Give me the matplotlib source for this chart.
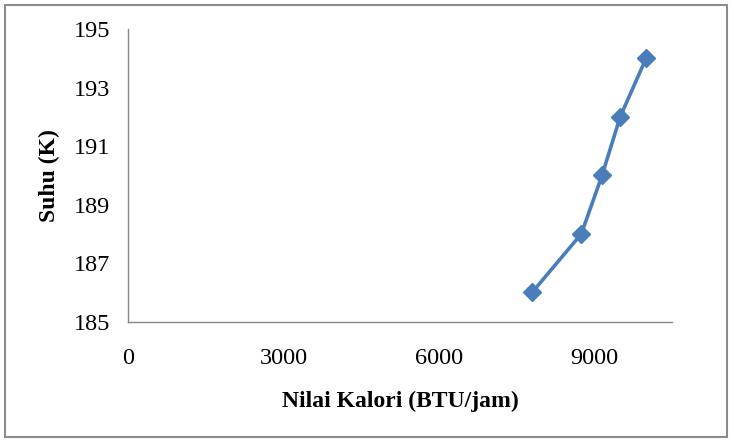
import matplotlib
matplotlib.use("Agg")
import matplotlib.pyplot as plt
from matplotlib.patches import Rectangle

kalori = [7800, 8750, 9150, 9500, 10000]
suhu = [186, 188, 190, 192, 194]
x_ticks = [0, 3000, 6000, 9000]
y_ticks = [185, 187, 189, 191, 193, 195]

plt.rcParams['font.family'] = ['Liberation Serif', 'DejaVu Serif']

fig = plt.figure(figsize=(7.34, 4.46), dpi=100)
fig.patches.append(Rectangle((5/734, 9/446), 722/734, 432/446, transform=fig.transFigure,
                             fill=False, edgecolor='#8c8c8c', linewidth=1.5))
ax = fig.add_axes([128/734, 124.3/446, 544/734, 292.7/446])
ax.plot(kalori, suhu, color='#4A7EBB', linewidth=2.6, marker='D', markersize=9,
        markerfacecolor='#4A7EBB', markeredgecolor='#4A7EBB')
ax.set_xlim(0, 10500)
ax.set_ylim(185, 195)
ax.set_xticks(x_ticks)
ax.set_yticks(y_ticks)
ax.tick_params(length=0, labelsize=17.5, colors='black')
ax.tick_params(axis='x', pad=19)
ax.tick_params(axis='y', pad=13)
for s in ['top', 'right']:
    ax.spines[s].set_visible(False)
for s in ['left', 'bottom']:
    ax.spines[s].set_color('#868686')
    ax.spines[s].set_linewidth(1.0)
ax.set_xlabel('Nilai Kalori (BTU/jam)', fontsize=17, fontweight='bold', labelpad=16)
ax.set_ylabel('Suhu (K)', fontsize=17, fontweight='bold', labelpad=10)
fig.savefig('out.png', dpi=100)
